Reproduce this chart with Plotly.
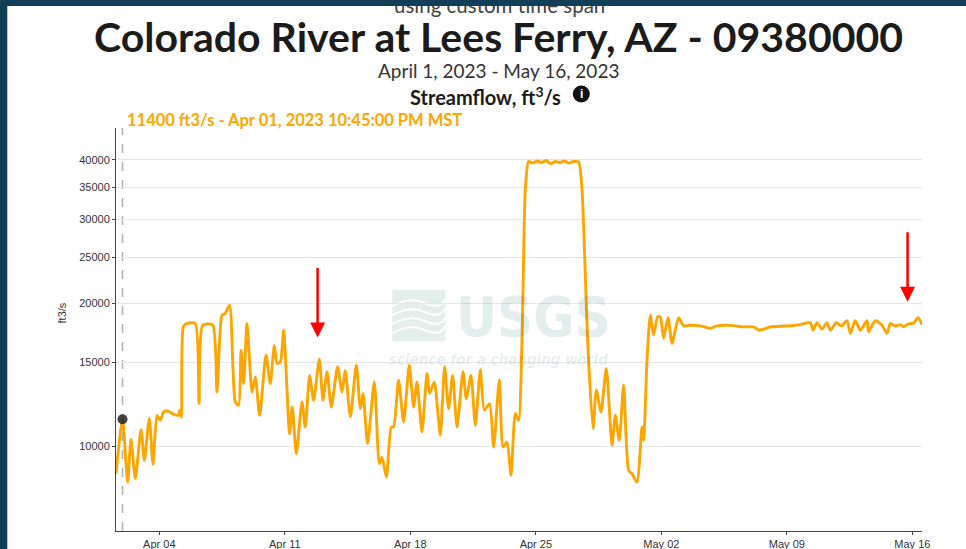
import math
import pandas as pd
import plotly.graph_objects as go

# ---------------- data ----------------
START = pd.Timestamp("2023-04-01 00:00")
hours = [
    14.0, 22.75, 29.6, 34.1, 39.9, 47.5, 51.9, 58.6, 63.6, 68.9, 73.4, 77.8, 83.7, 90.0,
    97.8, 99.2, 101.5, 104.1, 109.1, 120.2, 125.2, 130.0, 143.4, 149.2, 155.9, 160.0,
    166.1, 173.7, 178.2, 181.4, 184.9, 189.4, 196.1, 200.5, 206.3, 214.8, 220.6, 225.9,
    229.6, 234.0, 238.4, 246.4, 250.0, 255.4, 263.0, 267.4, 273.2, 278.5, 286.2, 291.1,
    296.5, 302.2, 310.7, 316.6, 321.0, 327.7, 335.7, 341.1, 344.7, 350.8, 359.8, 366.5,
    370.1, 375.9, 382.5, 385.6, 392.3, 399.0, 406.6, 412.4, 416.9, 423.6, 430.3, 433.8,
    440.1, 448.1, 453.9, 459.2, 464.6, 470.5, 478.5, 482.9, 489.2, 495.0, 501.7, 507.0,
    514.1, 519.5, 527.1, 532.1, 537.4, 542.8, 548.5, 552.9, 557.5, 561.9, 566.3, 572.0,
    578.0, 584.0, 590.0, 596.0, 602.0, 608.0, 614.0, 620.0, 626.0, 633.2, 637.8, 642.2,
    645.3, 652.5, 656.9, 663.2, 670.3, 678.0, 682.4, 687.7, 693.5, 700.2, 704.7, 711.4,
    718.1, 720.3, 724.8, 729.2, 733.6, 739.0, 742.6, 747.0, 752.9, 758.3, 767.1, 773.8,
    782.8, 796.1, 809.5, 818.5, 836.3, 854.1, 867.5, 875.5, 889.8, 907.6, 921.0, 930.0,
    943.3, 947.0, 952.3, 959.0, 965.7, 970.1, 978.2, 985.0, 992.5, 996.9, 1003.6, 1010.3,
    1019.3, 1021.4, 1030.4, 1039.4, 1046.1, 1050.5, 1057.0, 1063.9, 1068.3, 1074.9,
    1081.7, 1087.6, 1092.9,
]
flow_cfs = [
    8760, 11400, 8410, 10345, 8560, 10840, 9345, 11440, 9165, 11620, 11340, 11810, 11860, 11700,
    11620, 11900, 11530, 17830, 18130, 18130, 12300, 17970, 18000, 13010, 18870, 19000,
    19810, 12400, 12200, 15920, 13550, 18130, 13010, 14000, 11620, 15540, 13550, 16300,
    14940, 15050, 17540, 10630, 12100, 9650, 12400, 10980, 14100, 12490, 15250, 12490,
    14350, 12100, 14700, 13010, 14420, 11530, 14820, 11995, 12920, 10130, 13650, 9195,
    9490, 8620, 10980, 10980, 13770, 11250, 14820, 12100, 13650, 10720, 14230, 12920,
    13650, 10550, 14700, 11995, 14100, 10980, 14350, 12590, 14100, 11070, 14500, 11910,
    12300, 9970, 13810, 9970, 10210, 8690, 11720, 11340, 16720, 34600, 39700, 39400,
    39800, 39500, 39900, 39300, 39700, 39500, 39800, 39400, 39700, 39600, 34600, 23100,
    16720, 10900, 13120, 11810, 14580, 10050, 11620, 10300, 13440, 8900, 8760, 8410,
    10980, 10300, 15170, 18870, 17140, 18720, 18720, 16880, 18650, 16470, 18650, 17920,
    17970, 17920, 17700, 17920, 17960, 17830, 17830, 17540, 17830, 17900, 17950, 18030,
    18200, 17540, 18200, 17640, 18200, 17540, 18200, 17900, 18380, 17280, 18380, 17540,
    18380, 17420, 18380, 17970, 17280, 18130, 17900, 18030, 17840, 18100,
    18150, 18650, 18030,
]
times = START + pd.to_timedelta(hours, unit="h")

hover_time = "2023-04-01 22:45"
hover_value = 11400

y_tick_values = [10000, 15000, 20000, 25000, 30000, 35000, 40000]
y_tick_labels = ["10000", "15000", "20000", "25000", "30000", "35000", "40000"]
x_tick_dates = ["2023-04-04", "2023-04-11", "2023-04-18", "2023-04-25",
                "2023-05-02", "2023-05-09", "2023-05-16"]
x_tick_labels = ["Apr 04", "Apr 11", "Apr 18", "Apr 25", "May 02", "May 09", "May 16"]

arrow_times = ["2023-04-12 19:54", "2023-05-15 17:36"]
arrow_values = [16940, 20130]

x_range = ["2023-04-01 14:03", "2023-05-16 12:54"]
y_range_values = [6637, 46700]

# ---------------- layout helpers ----------------
PL, PR, PT, PB = 115.7, 921.7, 128.0, 530.7
W, H = 966, 549


def px(x):
    return (x - PL) / (PR - PL)


def py(y):
    return (PB - y) / (PB - PT)


NAVY = "#123f57"
ORANGE = "#FFA500"
TITLE_FONT = "Lato"
AX_FONT = "Liberation Sans"
WM = "#e4eeeb"
WM_TXT = "rgba(0,95,75,0.105)"

fig = go.Figure()
fig.add_trace(go.Scatter(
    x=times, y=flow_cfs, mode="lines",
    line=dict(color=ORANGE, width=2.9, shape="spline", smoothing=0.6),
    hoverinfo="skip", showlegend=False,
))
fig.add_trace(go.Scatter(
    x=[hover_time], y=[hover_value], mode="markers",
    marker=dict(color="rgba(35,35,35,0.85)", size=10),
    hoverinfo="skip", showlegend=False,
))

shapes = []
# white page on the navy screen background
shapes.append(dict(type="rect", xref="paper", yref="paper",
                   x0=px(7), x1=px(W + 5), y0=py(H + 10), y1=py(6),
                   fillcolor="white", line=dict(width=0), layer="below"))
shapes.append(dict(type="line", xref="x", yref="paper", x0=hover_time, x1=hover_time,
                   y0=0, y1=1, line=dict(color="#b0b0b0", width=1.5, dash="dash"),
                   layer="below"))
shapes.append(dict(type="rect", xref="paper", yref="paper",
                   x0=px(392), x1=px(445), y0=py(341), y1=py(290),
                   fillcolor=WM, line=dict(width=0), layer="below"))
for yy in (302, 311, 320, 329):
    shapes.append(dict(
        type="path", xref="paper", yref="paper", layer="below",
        path=(f"M {px(392)},{py(yy + 4)} Q {px(410)},{py(yy - 6)} {px(425)},{py(yy + 1)} "
              f"T {px(445)},{py(yy - 3)}"),
        line=dict(color="white", width=2.2)))
shapes.append(dict(type="circle", xref="paper", yref="paper",
                   x0=px(572.5), x1=px(589.5), y0=py(102.5), y1=py(85.5),
                   fillcolor="#111", line=dict(width=0)))


def txt(text, x, y, size, color, family=TITLE_FONT, xanchor="center", **kw):
    d = dict(text=text, x=px(x), y=py(y), xref="paper", yref="paper", showarrow=False,
             xanchor=xanchor, yanchor="middle",
             font=dict(family=family, size=size, color=color))
    d.update(kw)
    return d


annotations = []
annotations.append(txt("using custom time span", 499, 5, 20.5, "#444"))
# navy cover over the top of the clipped line of text
annotations.append(dict(text="<span style='color:#123f57'>" + "_" * 60 + "</span>",
                        x=px(483), y=py(1), xref="paper", yref="paper",
                        xanchor="center", yanchor="middle",
                        showarrow=False, width=1010, height=10, bgcolor=NAVY,
                        borderpad=0, borderwidth=0, font=dict(size=6, color=NAVY)))
annotations.append(txt("<b>Colorado River at Lees Ferry, AZ - 09380000</b>", 498, 37, 41, "#1b1b1b"))
annotations.append(txt("April 1, 2023 - May 16, 2023", 498, 71, 19, "#333"))
annotations.append(txt("<b>Streamflow, ft<sup>3</sup>/s</b>", 485.5, 96, 20, "#1b1b1b"))
annotations.append(txt("<b>i</b>", 581, 94, 12, "white", family=AX_FONT))
annotations.append(txt("<b>11400 ft3/s - Apr 01, 2023 10:45:00 PM MST</b>", 125, 120.5, 16.5,
                       ORANGE, xanchor="left"))
annotations.append(txt("ft3/s", 62, 313, 11, "#333", family=AX_FONT, textangle=-90))
annotations.append(txt("<b>USGS</b>", 533, 316, 56, WM_TXT, family="DejaVu Sans Condensed"))
annotations.append(txt("<b><i>science for a changing world</i></b>", 498, 360, 15, WM_TXT,
                       family="DejaVu Sans Condensed"))
for t, v in zip(arrow_times, arrow_values):
    annotations.append(dict(x=t, y=math.log10(v), xref="x", yref="y", text="",
                            showarrow=True, arrowhead=2, arrowsize=1.2, arrowwidth=2.5,
                            arrowcolor="#ff0000", ax=0, ay=-71))

fig.update_layout(
    width=W, height=H,
    margin=dict(l=PL, r=W - PR, t=PT, b=H - PB, pad=0),
    paper_bgcolor=NAVY, plot_bgcolor="white",
    showlegend=False,
    shapes=shapes, annotations=annotations,
    xaxis=dict(type="date", range=x_range, tickvals=x_tick_dates, ticktext=x_tick_labels,
               showgrid=False, zeroline=False, showline=True, linecolor="#444", linewidth=1,
               ticks="outside", ticklen=3, tickcolor="#444",
               tickfont=dict(family=AX_FONT, size=11, color="#333"), automargin=False),
    yaxis=dict(type="log", range=[math.log10(y_range_values[0]), math.log10(y_range_values[1])],
               tickvals=y_tick_values, ticktext=y_tick_labels,
               showgrid=True, gridcolor="#e6e6e6", gridwidth=1, zeroline=False,
               showline=True, linecolor="#444", linewidth=1,
               ticks="outside", ticklen=3, tickcolor="#444",
               tickfont=dict(family=AX_FONT, size=11, color="#333"), automargin=False),
)

fig.write_html("out.html", config={"displayModeBar": False},
               post_script="document.body.style.margin='0';document.body.style.overflow='hidden';")
